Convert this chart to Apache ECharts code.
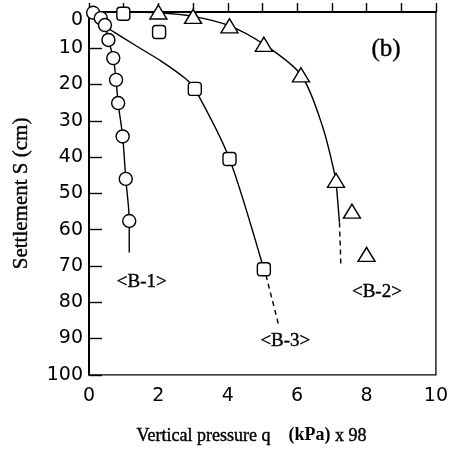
<!DOCTYPE html>
<html><head><meta charset="utf-8">
<script src="https://cdn.jsdelivr.net/npm/echarts@6/dist/echarts.min.js"></script>
<style>html,body{margin:0;padding:0;background:#fff}#c{width:451px;height:450px}</style>
</head><body><div id="c"></div>
<script>
// Measured points
const b1Q = [0.12, 0.34, 0.46, 0.56, 0.70, 0.78, 0.84, 0.97, 1.06, 1.16];
const b1S = [0.2, 1.7, 3.6, 7.7, 12.7, 18.7, 25.1, 34.3, 46.0, 57.6];
const b2Q = [2.0, 3.0, 4.05, 5.04, 6.11, 7.12, 7.58, 8.0];
const b2S = [0.0, 1.2, 3.8, 8.9, 17.3, 46.4, 54.9, 66.8];
const b3Q = [0.99, 2.02, 3.05, 4.05, 5.04];
const b3S = [0.5, 5.5, 21.2, 40.5, 70.9];
// Fitted curves
const b1CurveQ = [0.12, 0.34, 0.46, 0.56, 0.70, 0.78, 0.84, 0.97, 1.06, 1.16, 1.16];
const b1CurveS = [0.2, 1.7, 3.6, 7.7, 12.7, 18.7, 25.1, 34.3, 46.0, 57.6, 66.3];
const b2CurveQ = [0.12, 1.0, 2.0, 3.0, 4.05, 5.04, 6.11, 6.73, 7.12];
const b2CurveS = [0.0, 0.0, 0.2, 1.2, 3.8, 8.9, 17.3, 31.5, 46.4];
const b2TailQ = [7.12, 7.22];
const b2TailS = [46.4, 58.0];
const b2DashQ = [7.22, 7.26];
const b2DashS = [58.0, 69.5];
const b3CurveQ = [0.5, 1.32, 2.09, 2.76, 3.05, 4.05, 5.04];
const b3CurveS = [4.2, 9.1, 13.6, 18.2, 21.2, 40.5, 70.9];
const b3DashQ = [5.1, 5.47];
const b3DashS = [72.5, 86.4];
const xTicks = [0, 2, 4, 6, 8, 10];
const curveLabels = ['<B-1>', '<B-2>', '<B-3>', '(b)'];

const zip = (a, b) => a.map((v, i) => [v, b[i]]);
const lineStyle = {color: '#000', width: 1.4};
const mk = {color: '#fff', borderColor: '#000', borderWidth: 1.4, opacity: 1};
const serifDark = {textBorderColor: '#000', textBorderWidth: 0.4};

const chart = echarts.init(document.getElementById('c'));
chart.setOption({
  animation: false,
  backgroundColor: '#fff',
  grid: {left: 89, right: 13, top: 12, bottom: 74, show: true, borderColor: '#000', borderWidth: 1.3},
  xAxis: {
    type: 'value', min: 0, max: 10, interval: 1,
    axisLine: {lineStyle: {color: '#000', width: 2}},
    axisTick: {inside: true, length: 9, lineStyle: {color: '#000', width: 1.4}},
    axisLabel: {color: '#000', fontFamily: 'DejaVu Sans', fontSize: 19, margin: 12,
      formatter: v => xTicks.indexOf(v) >= 0 ? String(v) : ''},
    splitLine: {show: false},
    name: '{n|Vertical pressure q    }{b|(kPa)}{n| x 98}',
    nameLocation: 'middle', nameGap: 52,
    nameTextStyle: {padding: [0, 22, 0, 0], rich: {
      n: Object.assign({fontFamily: 'Liberation Serif', fontSize: 18, color: '#000'}, serifDark),
      b: {fontFamily: 'Liberation Serif', fontSize: 18, fontWeight: 'bold', color: '#000'}
    }}
  },
  yAxis: {
    type: 'value', min: 0, max: 100, interval: 10, inverse: true,
    axisLine: {lineStyle: {color: '#000', width: 2}},
    axisTick: {inside: true, length: 13, lineStyle: {color: '#000', width: 1.4}},
    axisLabel: {color: '#000', fontFamily: 'DejaVu Sans', fontSize: 19, margin: 6,
      formatter: v => v === 0 ? '{z|0}' : String(v),
      rich: {z: {fontFamily: 'DejaVu Sans', fontSize: 19, color: '#000', padding: [16, 0, 0, 0]}}},
    splitLine: {show: false},
    name: 'Settlement S (cm)', nameLocation: 'middle', nameGap: 57,
    nameTextStyle: Object.assign({fontFamily: 'Liberation Serif', fontSize: 21, color: '#000'}, serifDark)
  },
  series: [
    {type: 'line', data: zip(b1CurveQ, b1CurveS), smooth: 0.3, showSymbol: false, lineStyle, z: 2},
    {type: 'line', data: zip(b2CurveQ, b2CurveS), smooth: 0.3, showSymbol: false, lineStyle, z: 2},
    {type: 'line', data: zip(b2TailQ, b2TailS), showSymbol: false, lineStyle, z: 2},
    {type: 'line', data: zip(b2DashQ, b2DashS), showSymbol: false, lineStyle: {color: '#000', width: 1.4, type: [5, 4]}, z: 2},
    {type: 'line', data: zip(b3CurveQ, b3CurveS), smooth: 0.25, showSymbol: false, lineStyle, z: 2},
    {type: 'line', data: zip(b3DashQ, b3DashS), showSymbol: false, lineStyle: {color: '#000', width: 1.4, type: [5, 4]}, z: 2},
    {type: 'scatter', data: zip(b1Q, b1S), symbol: 'circle', symbolSize: 13, itemStyle: mk, z: 5},
    {type: 'scatter', data: zip(b3Q, b3S), symbol: 'roundRect', symbolSize: 13, itemStyle: mk, z: 5},
    {type: 'scatter', data: zip(b2Q, b2S), symbol: 'triangle', symbolSize: [17, 14], itemStyle: mk, z: 5},
    {type: 'scatter', symbolSize: 1, silent: true, z: 6,
      itemStyle: {color: 'rgba(0,0,0,0)', opacity: 1},
      data: [
        {value: [1.52, 74.5], name: curveLabels[0]},
        {value: [8.3, 77.2], name: curveLabels[1]},
        {value: [5.66, 90.7], name: curveLabels[2]},
        {value: [8.56, 10.4], name: curveLabels[3], label: {fontSize: 25}}
      ],
      label: Object.assign({show: true, position: 'inside', formatter: p => p.name, color: '#000', opacity: 1,
        fontFamily: 'Liberation Serif', fontSize: 19}, serifDark)}
  ]
});
</script></body></html>
